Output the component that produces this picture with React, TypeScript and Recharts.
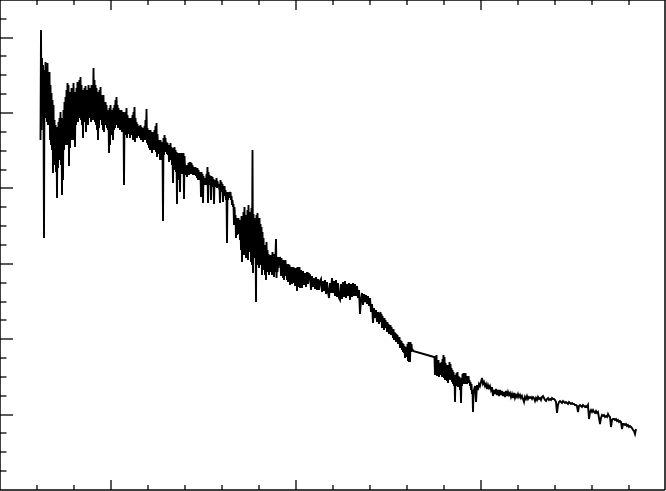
import { Line, LineChart, XAxis, YAxis } from "recharts";

// no labels on the original, so wavelength and flux are in arbitrary units
const wavelengthTicks = [37, 74, 111, 148, 185, 222, 259, 296, 333, 370, 407, 444, 481, 518, 555, 592, 629];
const wavelengthMajor = [111, 296, 481];
const fluxTicks = [19, 38, 57, 75, 94, 113, 132, 151, 170, 188, 207, 226, 245, 264, 283, 302, 320, 339, 358, 377, 396, 415, 434, 452, 471];
const fluxMajor = [75, 151, 226, 302, 377, 452];

// half unit sampling
const flux040 = [350,460,360,432,375,425,385,252,420,378,428,372,424,368,427,365,415,370,418,350,405,345,397,340,390,317,385,330,370,325,365,318,362,292,363,322,368,330,372,335];
const flux060 = [378,325,370,295,372,310,380,340,388,345,393,350,400,345,407,350,405,324,398,342,396,350,402,352,400,350,407,360,395,343,398,365,402,370,408,368,405,372,410,375];
const flux080 = [413,370,405,365,400,352,398,375,402,368,404,358,400,370,398,365,405,376,402,372,400,368,405,372,398,370,422,375,410,368,405,365,402,360,398,350,395,362,400,370];
const flux100 = [403,372,395,365,392,360,395,358,385,365,388,370,385,362,380,360,375,337,382,345,385,360,380,355,378,350,382,360,385,362,390,365,393,368,385,362,382,365,380,360];
const flux120 = [378,362,380,358,376,360,378,305,372,355,378,360,382,352,375,356,372,358,370,352,372,355,370,358,375,350,378,352,383,348,372,355,368,352,366,358,364,354,362,352];
const flux140 = [365,350,363,352,362,348,360,350,364,352,370,350,381,347,362,345,360,342,358,340,360,342,358,337,356,345,358,340,360,342,364,338,367,333,356,340,350,336,348,330];
const flux160 = [350,335,348,330,345,269,352,335,355,342,352,338,348,336,347,335,345,328,344,335,347,330,343,325,340,307,342,326,343,320,340,318,338,286,337,310,336,315,337,298];
const flux180 = [335,318,337,316,335,318,337,291,334,322,325,315,322,313,325,316,327,315,328,318,328,316,327,317,325,315,323,316,322,315,323,314,320,312,322,310,320,312,318,310];
const flux200 = [318,293,318,310,316,287,314,305,312,306,312,305,316,308,323,287,318,306,315,305,312,290,314,303,313,308,311,286,308,305,310,303,312,302,309,304,306,303,304,287];
const flux220 = [310,300,308,298,306,288,302,295,304,294,300,290,298,247,298,290,296,292,298,295,298,290,294,285,290,283,286,265,283,270,275,252,272,255,268,258,272,256,268,250];
const flux240 = [270,240,274,228,272,245,278,235,283,240,270,232,275,236,280,230,285,240,270,238,278,228,282,225,340,217,276,232,272,235,268,188,275,225,277,228,270,222,272,230];
const flux260 = [266,225,263,215,258,225,252,220,245,215,240,210,248,222,240,218,236,215,232,220,235,218,232,215,238,217,232,213,236,218,234,251,212,228,218,233,222,230,225,233];
const flux280 = [230,214,232,218,228,212,230,210,227,216,230,214,226,210,224,208,226,210,225,205,222,208,223,206,221,209,223,207,222,204,220,205,222,199,223,208,219,203,223,202];

// unit sampling through the flat stretch
const flux300 = [220,202,219,205,217,203,218,206,216,215,200,214,203,212,201,213,200,211,200,209];
const flux320 = [211,198,209,199,210,196,208,198,192,207,197,212,197,209,194,210,193,207,192,190];
const flux340 = [206,191,208,193,209,192,206,194,207,190,206,193,207,194,206,194,204,192,200,176];
const flux360 = [190,197,185,196,188,195,186,194,184,192,178,186,167,182,172,180,168,178,166,176];

// half unit again, the band thickens before the detector gap
const flux380 = [178,168,176,162,174,166,172,160,172,162,170,164,168,158,168,160,166,156,164,157,165,155,163,157,160,152,161,150,158,152,157,148,156,150,155,146,152,148,153,142];
const flux400 = [150,142,149,140,147,138,146,137,144,132,143,134,142,133,146,129,148,128,147,128,148,138,146,139,141,139];

// after the gap
const flux434 = [133,133,115,132,118,135,114,128,116,130,113,127,115,124,116,128,113,131,118,135];
const flux444 = [112,133,110,127,112,124,109,125,107,122,110,128,111,126,110,122,108,120,106,118];
const flux454 = [104,115,88,114,104,117,106,118,103,114,104,113,100,111,87,112,104,116,106,117];
const flux464 = [108,116,106,117,108,114,106,112,107,114,108,110,104,108,100,106,96,100,78,98];

const flux474 = [100,104,88,105,100,106,104,108,112,106,108,104,106,101,105,102,104,100,103,94];
const flux494 = [100,96,101,95,100,94,100,95,99,94,98,93,99,94,98,95,97,93,96,92];
const flux514 = [97,92,95,93,96,93,95,92,94,91,88,93,91,94,91,93,92,93,91,93];
const flux534 = [92,89,92,90,93,91,92,90,93,94,92,90,89,91,92,90,91,90,92,91];
const flux554 = [91,90,88,77,85,88,89,88,87,89,88,87,88,87,86,88,87,86,87,86];
const flux574 = [86,85,85,84,78,84,85,84,83,85,84,83,84,83,85,71,78,80,78,80];
const flux594 = [78,77,79,77,78,72,66,72,75,74,75,73,74,73,76,74,73,63,70,71];
const flux614 = [71,70,71,69,70,68,69,68,61,66,66,65,66,64,65,63,64,63,62,60];
const flux634 = [59,56,61];

const sample = (start: number, step: number, flux: number[]) =>
  flux.map((value, i) => ({ wavelength: start + i * step, flux: value }));

const spectrum = [
  ...sample(40.5, 0.5, flux040),
  ...sample(60.5, 0.5, flux060),
  ...sample(80.5, 0.5, flux080),
  ...sample(100.5, 0.5, flux100),
  ...sample(120.5, 0.5, flux120),
  ...sample(140.5, 0.5, flux140),
  ...sample(160.5, 0.5, flux160),
  ...sample(180.5, 0.5, flux180),
  ...sample(200.5, 0.5, flux200),
  ...sample(220.5, 0.5, flux220),
  ...sample(240.5, 0.5, flux240),
  ...sample(260.5, 0.5, flux260),
  ...sample(280.5, 0.5, flux280),
  ...sample(301, 1, flux300),
  ...sample(321, 1, flux320),
  ...sample(341, 1, flux340),
  ...sample(361, 1, flux360),
  ...sample(380.5, 0.5, flux380),
  ...sample(400.5, 0.5, flux400),
  ...sample(434, 0.5, flux434),
  ...sample(444, 0.5, flux444),
  ...sample(454, 0.5, flux454),
  ...sample(464, 0.5, flux464),
  ...sample(474, 1, flux474),
  ...sample(494, 1, flux494),
  ...sample(514, 1, flux514),
  ...sample(534, 1, flux534),
  ...sample(554, 1, flux554),
  ...sample(574, 1, flux574),
  ...sample(594, 1, flux594),
  ...sample(614, 1, flux614),
  ...sample(634, 1, flux634),
];

const INK = "#000";

function xTick(direction: number) {
  return ({ x, y, payload }: any) => {
    const length = wavelengthMajor.includes(payload.value) ? 10 : 5;
    return <line x1={x} x2={x} y1={y} y2={y + direction * length} stroke={INK} strokeWidth={1.3} />;
  };
}

function yTick(direction: number) {
  return ({ x, y, payload }: any) => {
    const length = fluxMajor.includes(payload.value) ? 13 : 6.5;
    return <line x1={x} x2={x + direction * length} y1={y} y2={y} stroke={INK} strokeWidth={1.3} />;
  };
}

const axisLine = { stroke: INK, strokeWidth: 1.5 };

export default function App() {
  return (
    <div style={{ position: "absolute", left: 0, top: 0, width: 666, height: 491 }}>
      <LineChart width={666} height={491} data={spectrum} margin={{ top: -1, right: 0, bottom: 0, left: -1 }}>
        <XAxis xAxisId="bottom" orientation="bottom" type="number" dataKey="wavelength" domain={[0, 665]} ticks={wavelengthTicks} interval={0} height={1} tickSize={0} tickMargin={0} axisLine={axisLine} tick={xTick(-1)} />
        <XAxis xAxisId="top" orientation="top" type="number" dataKey="wavelength" domain={[0, 665]} ticks={wavelengthTicks} interval={0} height={1} tickSize={0} tickMargin={0} axisLine={axisLine} tick={xTick(1)} />
        <YAxis yAxisId="left" orientation="left" type="number" domain={[0, 490]} ticks={fluxTicks} interval={0} width={1} tickSize={0} tickMargin={0} axisLine={axisLine} tick={yTick(1)} />
        <YAxis yAxisId="right" orientation="right" type="number" domain={[0, 490]} ticks={fluxTicks} interval={0} width={1} tickSize={0} tickMargin={0} axisLine={axisLine} tick={yTick(-1)} />
        <Line xAxisId="bottom" yAxisId="left" type="linear" dataKey="flux" stroke={INK} strokeWidth={1.9} dot={false} activeDot={false} isAnimationActive={false} />
      </LineChart>
    </div>
  );
}
